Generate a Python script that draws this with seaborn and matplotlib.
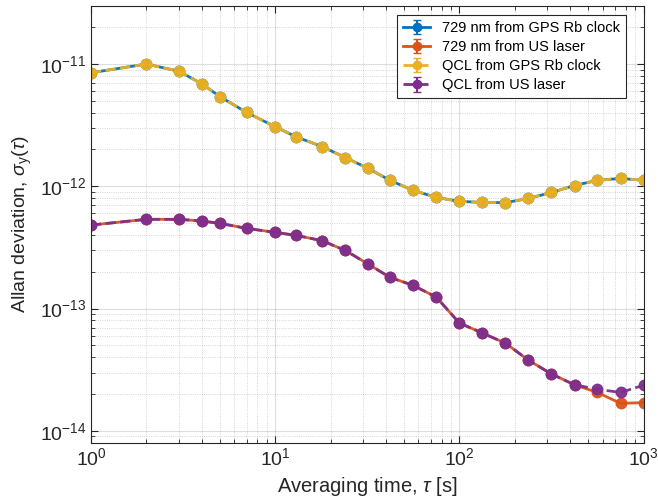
import numpy as np
import pandas as pd
import seaborn as sns
import matplotlib
matplotlib.use("Agg")
import matplotlib.pyplot as plt
from matplotlib.ticker import LogLocator, NullFormatter

# averaging times [s]
tau = [1, 2, 3, 4, 5, 7, 10, 13, 18, 24, 32, 42, 56, 75, 100, 133, 178, 237, 316, 422, 562, 750, 1000]

# 729 nm and QCL from GPS Rb clock (nearly identical)
adev_729_gps = [8.48e-12, 1.00e-11, 8.73e-12, 6.89e-12, 5.42e-12, 4.02e-12, 3.07e-12, 2.54e-12,
                2.11e-12, 1.72e-12, 1.40e-12, 1.12e-12, 9.26e-13, 8.12e-13, 7.53e-13, 7.39e-13,
                7.35e-13, 7.96e-13, 8.90e-13, 1.015e-12, 1.12e-12, 1.16e-12, 1.12e-12]
adev_qcl_gps = list(adev_729_gps)

# 729 nm and QCL from US laser
adev_729_us = [4.82e-13, 5.37e-13, 5.37e-13, 5.20e-13, 4.98e-13, 4.53e-13, 4.20e-13, 3.97e-13,
               3.59e-13, 2.99e-13, 2.31e-13, 1.80e-13, 1.55e-13, 1.24e-13, 7.62e-14, 6.32e-14,
               5.21e-14, 3.79e-14, 2.92e-14, 2.38e-14, 2.06e-14, 1.68e-14, 1.70e-14]
adev_qcl_us = adev_729_us[:20] + [2.19e-14, 2.06e-14, 2.36e-14]

labels = ["729 nm from GPS Rb clock", "729 nm from US laser",
          "QCL from GPS Rb clock", "QCL from US laser"]
colors = ["#0072BD", "#D95319", "#EDB120", "#7E2F8E"]
styles = ["-", "-", "--", "--"]

series = [adev_729_gps, adev_729_us, adev_qcl_gps, adev_qcl_us]
df = pd.concat([pd.DataFrame({"tau": tau, "adev": s, "series": lab})
                for s, lab in zip(series, labels)])

plt.rcParams["font.family"] = ["Liberation Sans", "DejaVu Sans"]
plt.rcParams["mathtext.fontset"] = "custom"
plt.rcParams["mathtext.rm"] = "Liberation Sans"
plt.rcParams["mathtext.it"] = "Liberation Sans:italic"
plt.rcParams["axes.unicode_minus"] = False

fig = plt.figure(figsize=(6.58, 4.99), dpi=100)
ax = fig.add_axes([0.1383, 0.1128, 0.978 - 0.1383, 0.9886 - 0.1128])

for lab, col, ls in zip(labels, colors, styles):
    sub = df[df["series"] == lab]
    sns.lineplot(data=sub, x="tau", y="adev", ax=ax, color=col, linestyle=ls,
                 linewidth=2, marker="o", markersize=7.5, markerfacecolor=col,
                 markeredgecolor=col, markeredgewidth=1, alpha=0.95, legend=False)

ax.set_xscale("log")
ax.set_yscale("log")
ax.set_xlim(1, 1000)
ax.set_ylim(8e-15, 3e-11)

ax.xaxis.set_minor_locator(LogLocator(base=10, subs=np.arange(2, 10), numticks=20))
ax.yaxis.set_minor_locator(LogLocator(base=10, subs=np.arange(2, 10), numticks=20))
ax.xaxis.set_minor_formatter(NullFormatter())
ax.yaxis.set_minor_formatter(NullFormatter())

ax.grid(True, which="major", color="#262626", alpha=0.15, linewidth=0.8, linestyle="-")
ax.grid(True, which="minor", color="#262626", alpha=0.25, linewidth=0.6, linestyle=":")
ax.set_axisbelow(True)

ax.tick_params(which="both", direction="in", top=True, right=True, colors="#262626",
               labelcolor="#262626", labelsize=14)
ax.tick_params(which="major", length=5)
ax.tick_params(which="minor", length=3)
for sp in ax.spines.values():
    sp.set_color("#262626")
    sp.set_linewidth(0.8)

ax.set_xlabel(r"Averaging time, $\tau$ [s]", fontsize=14.5, color="#262626", labelpad=4)
ax.set_ylabel(r"Allan deviation, $\sigma_\mathregular{y}(\tau)$", fontsize=14,
              color="#262626", labelpad=4)

handles = []
for col, ls in zip(colors, styles):
    h = ax.errorbar([np.nan], [np.nan], yerr=[np.nan], color=col, linestyle=ls,
                    linewidth=2, marker="o", markersize=6, markerfacecolor=col,
                    capsize=3, elinewidth=1.5)
    handles.append(h)
leg = ax.legend(handles, labels, loc="upper right", fontsize=10.5, frameon=True,
                fancybox=False, edgecolor="#262626", framealpha=1,
                borderpad=0.4, labelspacing=0.35, handlelength=1.85, handletextpad=0.8,
                borderaxespad=0.65, bbox_to_anchor=(0.985, 1.0))
leg.get_frame().set_linewidth(0.8)

fig.savefig("out.png", dpi=100)
